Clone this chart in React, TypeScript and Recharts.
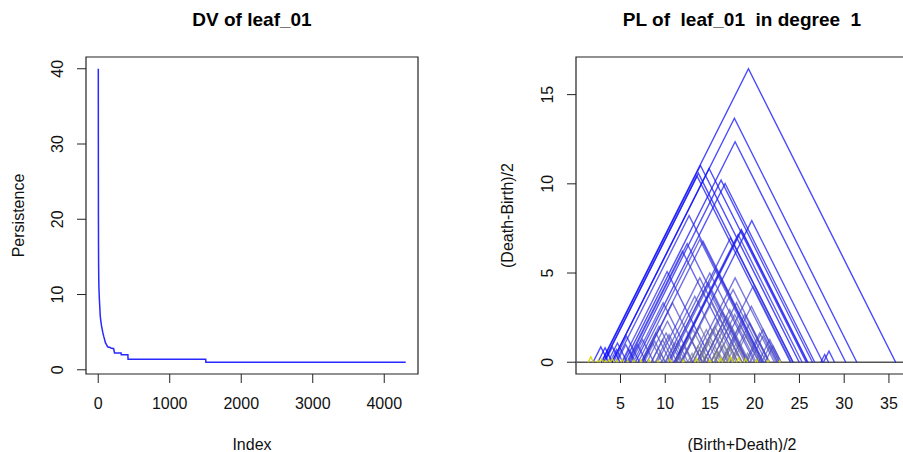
import React from 'react';
import {
  ScatterChart,
  Scatter,
  XAxis,
  YAxis,
  ReferenceArea,
  ReferenceLine
} from 'recharts';

const DV_INDEX = [1, 2, 3, 4, 5, 7, 9, 12, 16, 22, 28, 36, 45, 55, 65, 78, 90, 100, 112, 125, 140, 160, 175, 205, 215, 228, 320, 322, 415, 417, 1503, 1505, 4300];
const DV_VALUE = [40, 27, 20, 16.5, 14.5, 12.5, 11.2, 10.3, 9.4, 8.3, 7.2, 6.5, 5.9, 5.4, 4.9, 4.4, 4.0, 3.6, 3.4, 3.16, 3.0, 3.0, 2.9, 2.83, 2.83, 2.24, 2.24, 2.0, 2.0, 1.414, 1.414, 1.0, 1.0];

// PL of leaf_01: tent midpoints (Birth+Death)/2 and heights (Death-Birth)/2
const TENT_MID = [
  19.3, 17.73, 17.81, 13.94, 14.9, 13.56, 13.7, 16.24, 16.69, 12.67,
  19.67, 18.51, 18.14, 17.29, 13.86, 12.45, 11.92, 15.72, 10.21, 13.86,
  17.81, 19.82, 15.0, 9.77, 18.89, 13.3, 14.98, 17.58, 16.46, 17.77,
  17.21, 15.54, 13.86, 12.74, 14.98, 19.08, 20.93, 22.05, 16.46, 17.96,
  12.0, 15.73, 13.86, 19.63, 17.96, 19.45, 20.56, 21.68, 18.4, 16.84,
  16.1, 15.35, 13.1, 8.95, 10.1, 8.83, 5.67, 4.66, 10.81, 10.25,
  9.31, 10.43, 11.18, 9.7, 8.58, 7.46, 6.9, 5.96, 5.59, 4.55,
  4.1, 3.28, 2.8, 1.68, 27.82, 28.3,
  18.5, 14.23, 14.79, 20.93, 14.6, 13.67, 17.21, 21.68, 17.21, 15.17,
  13.0, 14.5, 16.0, 17.0, 18.0, 19.2, 20.5, 11.5, 9.5, 15.4,
  2.5, 2.9, 3.3, 3.7, 4.1, 4.6, 5.2, 5.8, 6.5, 7.3,
  8.2, 9.2, 10.5, 12.0, 13.5, 15.0, 16.2, 17.3, 18.2, 19.0,
  20.2, 21.5, 22.8
];
const TENT_HEIGHT = [
  16.45, 13.68, 12.36, 11.03, 10.86, 10.43, 10.6, 10.21, 10.02, 8.22,
  7.94, 7.38, 7.16, 6.97, 6.88, 6.65, 6.22, 5.2, 5.08, 4.73,
  4.73, 4.26, 3.9, 3.33, 2.67, 3.7, 5.0, 4.07, 2.77, 2.67,
  2.11, 2.02, 2.02, 1.46, 1.18, 1.55, 1.46, 0.9, 0.99, 1.09,
  0.99, 0.62, 0.71, 3.14, 3.33, 2.2, 1.64, 1.27, 2.1, 2.58,
  1.83, 1.83, 1.83, 1.64, 1.64, 1.18, 1.46, 1.08, 3.33, 2.3,
  2.02, 1.55, 1.09, 1.27, 1.09, 1.27, 0.99, 0.71, 0.99, 0.71,
  0.86, 0.81, 0.86, 0.3, 0.43, 0.62,
  7.44, 6.78, 4.45, 1.83, 1.83, 0.9, 0.9, 0.9, 2.95, 3.33,
  0.5, 0.4, 0.55, 0.45, 0.6, 0.5, 0.45, 0.4, 0.5, 0.35,
  0.12, 0.18, 0.1, 0.15, 0.2, 0.12, 0.16, 0.1, 0.14, 0.12,
  0.15, 0.1, 0.18, 0.12, 0.2, 0.14, 0.22, 0.28, 0.25, 0.2,
  0.15, 0.12, 0.1
];

const DV_X_TICKS = [0, 1000, 2000, 3000, 4000];
const DV_Y_TICKS = [0, 10, 20, 30, 40];
const PL_X_TICKS = [5, 10, 15, 20, 25, 30, 35];
const PL_Y_TICKS = [0, 5, 10, 15];

const FONT = '"Liberation Sans", Arial, Helvetica, sans-serif';
const DV_X_DOMAIN: [number, number] = [-171, 4472];
const DV_Y_DOMAIN: [number, number] = [-0.56, 41.56];
const PL_X_DOMAIN: [number, number] = [0.03, 37.13];
const PL_Y_DOMAIN: [number, number] = [-0.66, 17.11];

const dvData = DV_INDEX.map((x, i) => ({ x, y: DV_VALUE[i] }));

// colour each tent by how many other tents lie above its peak (landscape depth)
const tentAt = (m: number, h: number, x: number) => Math.max(0, h - Math.abs(x - m));
const STOPS = [
  { d: 0, c: [10, 10, 255, 0.75] },
  { d: 10, c: [50, 50, 220, 0.7] },
  { d: 22, c: [85, 85, 185, 0.66] },
  { d: 36, c: [125, 125, 125, 0.62] }
];
const depthColor = (d: number) => {
  if (d >= STOPS[STOPS.length - 1].d) {
    const c = STOPS[STOPS.length - 1].c;
    return `rgba(${c[0]},${c[1]},${c[2]},${c[3]})`;
  }
  let k = 0;
  while (d > STOPS[k + 1].d) k++;
  const a = STOPS[k], b = STOPS[k + 1];
  const t = (d - a.d) / (b.d - a.d);
  const c = a.c.map((v, i) => v + (b.c[i] - v) * t);
  return `rgba(${Math.round(c[0])},${Math.round(c[1])},${Math.round(c[2])},${c[3].toFixed(2)})`;
};

const tents = TENT_MID.map((m, i) => {
  const h = TENT_HEIGHT[i];
  let depth = 0;
  TENT_MID.forEach((m2, j) => {
    if (j !== i && tentAt(m2, TENT_HEIGHT[j], m) > h) depth++;
  });
  const color = h < 0.31 ? 'rgba(215,215,0,0.9)' : depthColor(depth);
  return {
    color,
    points: [
      { x: m - h, y: 0 },
      { x: m, y: h },
      { x: m + h, y: 0 }
    ]
  };
});

const NoDot = () => <g />;

const RotatedTick = (props: any) => {
  const { x, y, payload } = props;
  const cx = x - 19;
  return (
    <text
      x={cx}
      y={y}
      transform={`rotate(-90 ${cx} ${y})`}
      textAnchor="middle"
      dominantBaseline="central"
      fontSize={16}
      fontFamily={FONT}
      fill="#111"
    >
      {payload.value}
    </text>
  );
};

const xTick = { fontSize: 16, fontFamily: FONT, fill: '#111' };

export default function App() {
  return (
    <div
      style={{
        position: 'absolute',
        left: 0,
        top: 0,
        width: 903,
        height: 452,
        overflow: 'hidden',
        background: '#fff',
        fontFamily: FONT
      }}
    >
      <div style={{ position: 'absolute', left: 0, top: 0 }}>
        <ScatterChart width={450} height={452} margin={{ top: 57, right: 32, bottom: 0, left: 0 }}>
          <XAxis
            type="number"
            dataKey="x"
            domain={DV_X_DOMAIN}
            ticks={DV_X_TICKS}
            interval={0}
            allowDataOverflow
            height={78}
            axisLine={false}
            tickSize={9}
            tickMargin={15}
            tickLine={{ stroke: '#222' }}
            tick={xTick}
          />
          <YAxis
            type="number"
            dataKey="y"
            domain={DV_Y_DOMAIN}
            ticks={DV_Y_TICKS}
            interval={0}
            allowDataOverflow
            width={86}
            axisLine={false}
            tickSize={9}
            tickMargin={0}
            tickLine={{ stroke: '#222' }}
            tick={<RotatedTick />}
          />
          <ReferenceArea
            x1={DV_X_DOMAIN[0]}
            x2={DV_X_DOMAIN[1]}
            y1={DV_Y_DOMAIN[0]}
            y2={DV_Y_DOMAIN[1]}
            fill="none"
            stroke="#222"
            strokeWidth={1.2}
            ifOverflow="visible"
          />
          <Scatter
            data={dvData}
            line={{ stroke: '#2828ff', strokeWidth: 1.5 }}
            shape={<NoDot />}
            isAnimationActive={false}
          />
        </ScatterChart>
      </div>

      <div style={{ position: 'absolute', left: 452, top: 0 }}>
        <ScatterChart width={470} height={452} margin={{ top: 57, right: 14, bottom: 0, left: 0 }}>
          <XAxis
            type="number"
            dataKey="x"
            domain={PL_X_DOMAIN}
            ticks={PL_X_TICKS}
            interval={0}
            allowDataOverflow
            height={78}
            axisLine={false}
            tickSize={9}
            tickMargin={15}
            tickLine={{ stroke: '#222' }}
            tick={xTick}
          />
          <YAxis
            type="number"
            dataKey="y"
            domain={PL_Y_DOMAIN}
            ticks={PL_Y_TICKS}
            interval={0}
            allowDataOverflow
            width={124}
            axisLine={false}
            tickSize={9}
            tickMargin={0}
            tickLine={{ stroke: '#222' }}
            tick={<RotatedTick />}
          />
          <ReferenceArea
            x1={PL_X_DOMAIN[0]}
            x2={PL_X_DOMAIN[1]}
            y1={PL_Y_DOMAIN[0]}
            y2={PL_Y_DOMAIN[1]}
            fill="none"
            stroke="#222"
            strokeWidth={1.2}
            ifOverflow="visible"
          />
          {tents.map((t, i) => (
            <Scatter
              key={`tent-${i}`}
              data={t.points}
              line={{ stroke: t.color, strokeWidth: 1.4 }}
              shape={<NoDot />}
              isAnimationActive={false}
            />
          ))}
          <ReferenceLine y={0} stroke="#555" strokeWidth={1.5} />
        </ScatterChart>
      </div>

      <svg
        width={903}
        height={452}
        style={{ position: 'absolute', left: 0, top: 0, pointerEvents: 'none' }}
        fontFamily={FONT}
      >
        <text x={252} y={26} textAnchor="middle" fontSize={19} fontWeight="bold" fill="#000">
          DV of leaf_01
        </text>
        <text x={742} y={26} textAnchor="middle" fontSize={19} fontWeight="bold" fill="#000" style={{ whiteSpace: 'pre' }}>
          {'PL of  leaf_01  in degree  1'}
        </text>
        <text x={252} y={450} textAnchor="middle" fontSize={16} fill="#111">
          Index
        </text>
        <text x={742} y={450} textAnchor="middle" fontSize={16} fill="#111">
          (Birth+Death)/2
        </text>
        <text x={24} y={215.5} textAnchor="middle" fontSize={16} fill="#111" transform="rotate(-90 24 215.5)">
          Persistence
        </text>
        <text x={513} y={215.5} textAnchor="middle" fontSize={16} fill="#111" transform="rotate(-90 513 215.5)">
          (Death-Birth)/2
        </text>
      </svg>
    </div>
  );
}
